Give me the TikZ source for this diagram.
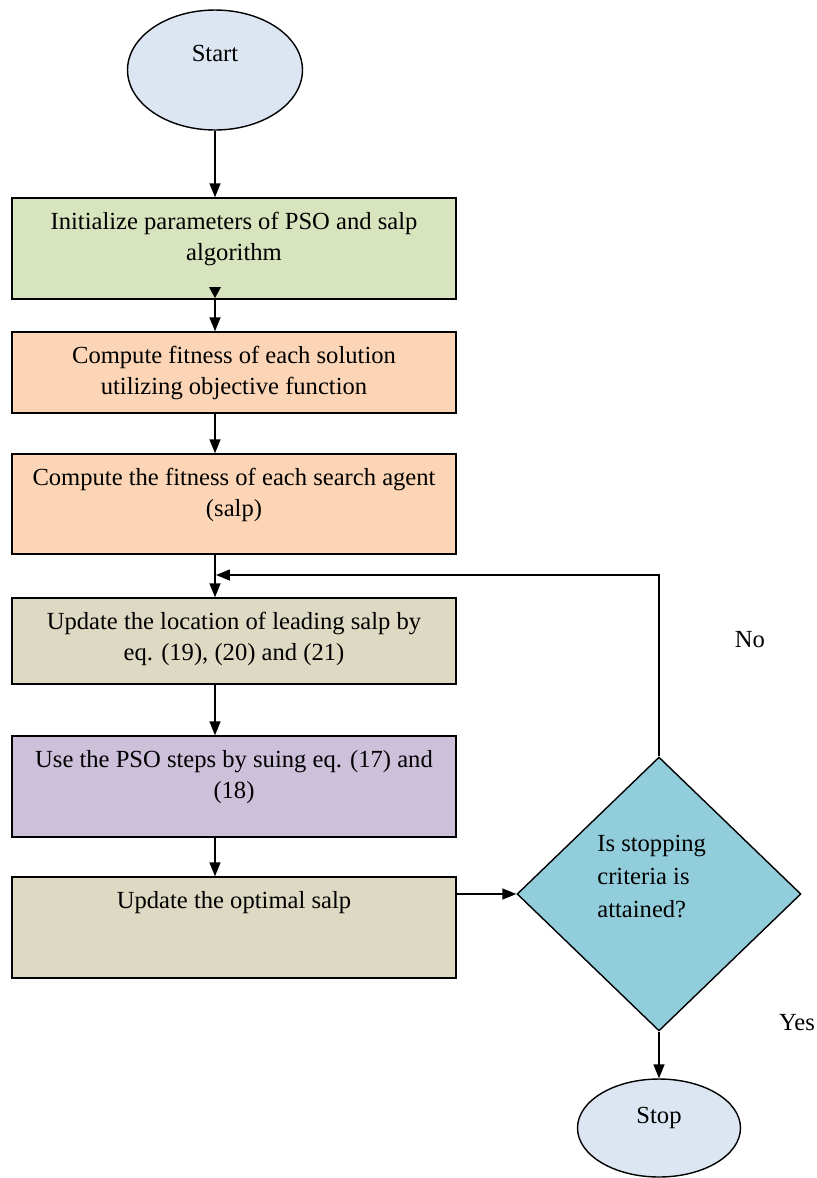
\documentclass[tikz,border=0pt]{standalone}
\usepackage{fontspec}
\setmainfont{Liberation Serif}
\usetikzlibrary{positioning,shapes.geometric,arrows.meta}

\definecolor{termblue}{HTML}{DCE6F2}
\definecolor{initgreen}{HTML}{D7E4BD}
\definecolor{fitorange}{HTML}{FBD5B5}
\definecolor{updtan}{HTML}{DDD9C3}
\definecolor{psolilac}{HTML}{CCC0DA}
\definecolor{checkteal}{HTML}{92CDDC}

\tikzset{
    stepbox/.style={draw, line width=0.8pt, minimum width=8.88cm, inner sep=0pt},
    terminal/.style={draw, ellipse, line width=0.8pt, fill=termblue, inner sep=0pt},
    decision/.style={draw, diamond, line width=0.8pt, fill=checkteal, inner sep=0pt},
    boxtext/.style={align=center, inner sep=0pt, font=\fontsize{14}{17.6}\selectfont},
    flow/.style={-{Triangle[length=0.28cm,width=0.22cm]}, line width=0.8pt},
}

\begin{document}
\begin{tikzpicture}[x=0.02cm, y=-0.02cm]
    % Area del disegno
    \useasboundingbox (0,0) rectangle (817,1178);

    % Inizio
    \node[terminal, minimum width=3.5cm, minimum height=2.4cm] (start) at (215,70) {};
    \node[boxtext] (starttext) at (215,53) {Start};

    % Blocchi del ciclo
    \node[stepbox, fill=initgreen, minimum height=2.02cm] (init) at (234,248.5) {};
    \node[boxtext, below=0.3cm of init.north] (inittext) {Initialize parameters of PSO and salp\\algorithm};

    \node[stepbox, fill=fitorange, minimum height=1.62cm] (fitsol) at (234,372.5) {};
    \node[boxtext, below=0.3cm of fitsol.north] (fitsoltext) {Compute fitness of each solution\\utilizing objective function};

    \node[stepbox, fill=fitorange, minimum height=2cm] (fitagent) at (234,504) {};
    \node[boxtext, below=0.3cm of fitagent.north] (fitagenttext) {Compute the fitness of each search agent\\(salp)};

    \node[stepbox, fill=updtan, minimum height=1.72cm] (leader) at (234,641) {};
    \node[boxtext, below=0.3cm of leader.north] (leadertext) {Update the location of leading salp by\\eq. (19), (20) and (21)};

    \node[stepbox, fill=psolilac, minimum height=2.02cm] (pso) at (234,786.5) {};
    \node[boxtext, below=0.3cm of pso.north] (psotext) {Use the PSO steps by suing eq. (17) and\\(18)};

    \node[stepbox, fill=updtan, minimum height=2.02cm] (best) at (234,927.5) {};
    \node[boxtext, below=0.3cm of best.north] (besttext) {Update the optimal salp};

    % Condizione di arresto
    \node[decision, minimum width=5.68cm, minimum height=5.48cm] (check) at (659,894) {};
    \node[boxtext, align=left, anchor=north west, font=\fontsize{14}{18.7}\selectfont] (checktext) at (597,835) {Is stopping\\criteria is\\attained?};

    % Fine
    \node[terminal, minimum width=3.26cm, minimum height=1.96cm] (stop) at (659,1128) {};
    \node[boxtext] (stoptext) at (659,1118) {Stop};

    % Frecce
    \draw[flow] (start.south) -- (init.north -| start);
    \fill (209,287) -- (221,287) -- (215,298) -- cycle;
    \draw[flow] (init.south -| start) -- (fitsol.north -| start);
    \draw[flow] (fitsol.south -| start) -- (fitagent.north -| start);
    \draw[flow] (fitagent.south -| start) -- (leader.north -| start);
    \draw[flow] (leader.south -| start) -- (pso.north -| start);
    \draw[flow] (pso.south -| start) -- (best.north -| start);
    \draw[flow] (best.east |- check.west) -- (check.west);
    \draw[flow] (check.south) -- (stop.north);

    % Ritorno
    \coordinate (back) at (216,575);
    \draw[flow] (check.north) |- (back);

    % Etichette
    \node[boxtext] (notext) at (750,640) {No};
    \node[boxtext] (yestext) at (797,1023) {Yes};
\end{tikzpicture}
\end{document}
